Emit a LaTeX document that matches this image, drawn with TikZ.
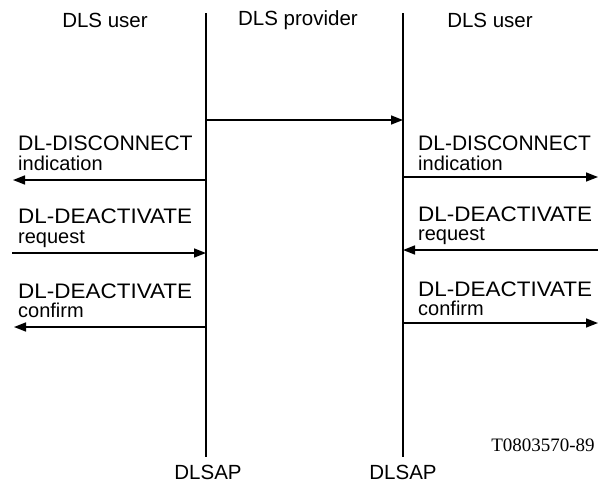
\documentclass[tikz,border=0pt]{standalone}
\usepackage{fontspec}
\usepackage{graphicx}
\setmainfont{Liberation Sans}
\newfontfamily\refserif{Liberation Serif}
\usetikzlibrary{arrows.meta}
\newcommand\capsline[2]{\scalebox{#2}[1]{\fontsize{21}{21}\selectfont #1}}
\newcommand\twoline[3]{\vtop{\baselineskip=#3\lineskiplimit=-100pt\lineskip=0pt
  \hbox{#1}\hbox{\fontsize{20}{20}\selectfont #2}}}
\tikzset{
  life/.style={line width=1.7pt},
  msg/.style={line width=1.5pt,-{Triangle[length=12pt,width=9pt]}},
  hdr/.style={font=\fontsize{20.5}{22}\selectfont,inner sep=0pt},
  prim/.style={inner sep=0pt,anchor=base west},
}
\begin{document}
\begin{tikzpicture}[x=1pt,y=-1pt]
\useasboundingbox (0,0) rectangle (600,488);
% headers
\node[hdr] (h1) at (105,20) {DLS user};
\node[hdr] (h2) at (298,20) {DLS provider};
\node[hdr] (h3) at (490,20) {DLS user};
% lifelines
\coordinate (lt) at (206,13);
\coordinate (lb) at (206,457);
\coordinate (rt) at (403,13);
\coordinate (rb) at (403,457);
\draw[life] (lt) -- (lb);
\draw[life] (rt) -- (rb);
\node[hdr] (sap1) at (208,472) {DLSAP};
\node[hdr] (sap2) at (403,472) {DLSAP};
\node[font=\refserif\fontsize{19}{20}\selectfont,inner sep=0pt] (ref) at (543,445) {T0803570-89};
% provider arrow
\coordinate (p1) at (206,120);
\coordinate (p2) at (403,120);
\draw[msg] (p1) -- (p2);
% left side
\node[prim] (l1) at (18,150) {\twoline{\capsline{DL-DISCONNECT}{1.01}}{indication}{20pt}};
\coordinate (la1) at (206,180);
\coordinate (la1e) at (13,180);
\draw[msg] (la1) -- (la1e);
\node[prim] (l2) at (18,223) {\twoline{\capsline{DL-DEACTIVATE}{1.07}}{request}{20pt}};
\coordinate (la2) at (12,253);
\coordinate (la2e) at (206,253);
\draw[msg] (la2) -- (la2e);
\node[prim] (l3) at (18,298) {\twoline{\capsline{DL-DEACTIVATE}{1.07}}{confirm}{19.5pt}};
\coordinate (la3) at (206,327);
\coordinate (la3e) at (14,327);
\draw[msg] (la3) -- (la3e);
% right side
\node[prim] (r1) at (418,150) {\twoline{\capsline{DL-DISCONNECT}{1.0}}{indication}{20pt}};
\coordinate (ra1) at (403,177);
\coordinate (ra1e) at (598,177);
\draw[msg] (ra1) -- (ra1e);
\node[prim] (r2) at (418,221) {\twoline{\capsline{DL-DEACTIVATE}{1.07}}{request}{19.5pt}};
\coordinate (ra2) at (598,250);
\coordinate (ra2e) at (403,250);
\draw[msg] (ra2) -- (ra2e);
\node[prim] (r3) at (418,296) {\twoline{\capsline{DL-DEACTIVATE}{1.07}}{confirm}{19.5pt}};
\coordinate (ra3) at (403,323);
\coordinate (ra3e) at (598,323);
\draw[msg] (ra3) -- (ra3e);
\end{tikzpicture}
\end{document}
